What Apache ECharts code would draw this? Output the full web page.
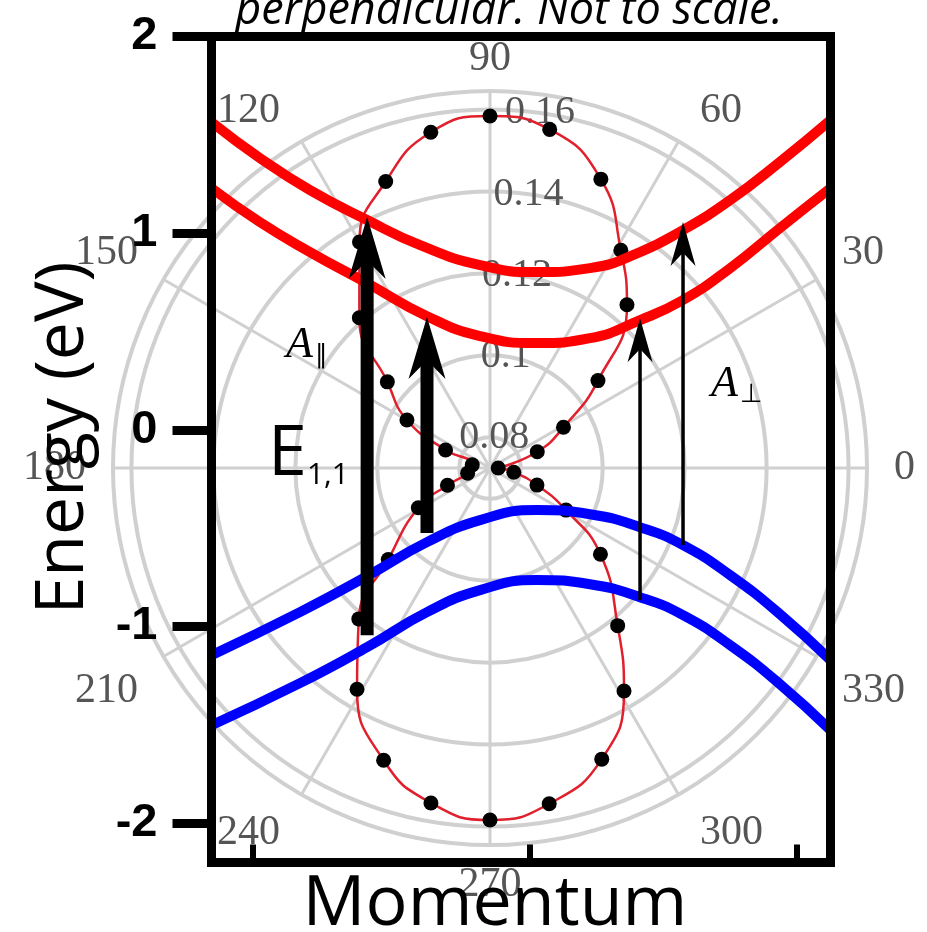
<!DOCTYPE html>
<html><head><meta charset="utf-8">
<script src="https://cdn.jsdelivr.net/npm/echarts@6/dist/echarts.min.js"></script>
<style>html,body{margin:0;padding:0;background:#fff}#c{width:927px;height:932px}</style>
</head><body><div id="c"></div>
<script>
// ---- data ----
const momentumTicks = [-1, 0.02, 1];
const energyTicks = [-2, -1, 0, 1, 2];
const energyTickLabels = ['-2', '-1', '0', '1', '2'];
const angleTickLabels = ['0','30','60','90','120','150','180','210','240','270','300','330'];
const radiusTicks = [0.08, 0.1, 0.12, 0.14, 0.16];
const radiusTickLabels = ['0.08', '0.1', '0.12', '0.14', '0.16'];

// conduction bands (red) and valence bands (blue): momentum / energy (eV)
const c2Momentum = [-1.15, -0.972, -0.788, -0.578, -0.383, -0.163, 0.046, 0.241, 0.425, 0.583, 0.756, 0.939, 1.125];
const c2Energy   = [1.565, 1.382, 1.219, 1.067, 0.939, 0.838, 0.802, 0.822, 0.904, 1.016, 1.168, 1.362, 1.575];
const c1Momentum = [-1.15, -0.972, -0.788, -0.578, -0.358, -0.163, 0.046, 0.241, 0.425, 0.583, 0.756, 0.939, 1.125];
const c1Energy   = [1.229, 1.056, 0.904, 0.746, 0.578, 0.477, 0.441, 0.466, 0.558, 0.660, 0.822, 1.026, 1.229];
const v1Momentum = [-1.15, -0.825, -0.578, -0.358, -0.163, 0.046, 0.241, 0.425, 0.583, 0.756, 0.939, 1.125];
const v1Energy   = [-1.146, -0.927, -0.744, -0.571, -0.459, -0.408, -0.429, -0.495, -0.586, -0.739, -0.937, -1.171];
const v2Momentum = [-1.15, -0.825, -0.578, -0.358, -0.163, 0.046, 0.241, 0.425, 0.583, 0.756, 0.939, 1.125];
const v2Energy   = [-1.502, -1.288, -1.105, -0.927, -0.815, -0.764, -0.785, -0.851, -0.942, -1.095, -1.293, -1.527];

// transitions (arrows): momentum, start energy, end energy
const arrowMomentum = [-0.578, -0.358, 0.425, 0.583];
const arrowFrom     = [-1.044, -0.525, -0.866, -0.586];
const arrowTo       = [1.082, 0.574, 0.568, 1.057];

// polar absorption pattern: angle (deg) and radius value
const patternAngles = [0, 19, 29, 39, 50, 59, 69, 80, 90, 100, 110, 120, 131, 140, 150, 158, 170,
  193, 202, 209, 222, 229, 239, 250, 260, 270, 280, 291, 301, 309, 322, 331, 340, 350];
const patternValues = [0.0745, 0.0847, 0.0930, 0.1064, 0.1245, 0.1345, 0.1480, 0.1564, 0.1584, 0.1557, 0.1469, 0.1362, 0.1211, 0.1052, 0.0959, 0.0842, 0.0769,
  0.0781, 0.0837, 0.0925, 0.1059, 0.1213, 0.1355, 0.1484, 0.1555, 0.1584, 0.1557, 0.1486, 0.1360, 0.1220, 0.1067, 0.0937, 0.0847, 0.0784];

// ---- styles ----
const arrowKinds = ['thick', 'thick', 'thin', 'thin'];
const arrowStyles = {
  thick: { shaft: 13, head: 37, len: 62 },
  thin:  { shaft: 3.5, head: 25, len: 44 }
};

const zip = (a, b) => a.map((v, i) => [v, b[i]]);
const patternData = patternValues.map((v, i) => [v, patternAngles[i]]);
const patternLoop = patternData.concat([[patternValues[0], 360]]);

const chart = echarts.init(document.getElementById('c'), null, { renderer: 'canvas' });
const gray = '#d0d0d0';
const polarCenter = [490, 468];
const polarRadius = 377;
const bandLine = (m, e, color) => ({
  type: 'line', xAxisIndex: 0, yAxisIndex: 0, data: zip(m, e), smooth: 0.5,
  symbol: 'none', z: 3, lineStyle: { color, width: 10 }
});

const option = {
  animation: false,
  backgroundColor: '#fff',
  grid: { left: 211.5, right: 96.5, top: 36.5, bottom: 69.5, outerBoundsMode: 'none', containLabel: false },
  polar: [
    { center: polarCenter, radius: polarRadius },
    { center: polarCenter, radius: polarRadius }
  ],
  angleAxis: [
    {
      polarIndex: 0, type: 'value', min: 0, max: 360, interval: 30, startAngle: 0, clockwise: false, z: 0,
      axisLine: { show: true, lineStyle: { color: gray, width: 4 } },
      axisTick: { show: false },
      splitLine: { show: true, lineStyle: { color: gray, width: 3 } },
      axisLabel: {
        margin: 11, padding: [8, 16, 0, 16], color: '#555', fontFamily: 'Liberation Serif', fontSize: 42,
        formatter: v => (v >= 360 ? '' : angleTickLabels[Math.round(v / 30)])
      }
    },
    {
      polarIndex: 1, type: 'value', min: 0, max: 360, startAngle: 82, clockwise: false, z: 0,
      axisLine: { show: false }, axisTick: { show: false }, splitLine: { show: false }, axisLabel: { show: false }
    }
  ],
  radiusAxis: [
    {
      polarIndex: 0, type: 'value', min: 0.0725, max: 0.1645, z: 0,
      axisLine: { show: false },
      axisTick: { show: false, customValues: radiusTicks },
      axisLabel: { show: false },
      splitLine: { show: true, lineStyle: { color: gray, width: 4 } }
    },
    {
      polarIndex: 1, type: 'value', min: 0.0725, max: 0.1645, z: 0,
      axisLine: { show: false },
      axisTick: { show: false, customValues: radiusTicks },
      splitLine: { show: false },
      axisLabel: {
        show: true, margin: 0, align: 'center', verticalAlign: 'middle', rotate: 0,
        color: '#555', fontFamily: 'Liberation Serif', fontSize: 40,
        customValues: radiusTicks,
        formatter: v => { const i = radiusTicks.findIndex(t => Math.abs(t - v) < 1e-6); return i >= 0 ? radiusTickLabels[i] : ''; }
      }
    }
  ],
  xAxis: [
    {
      type: 'value', min: -1.15, max: 1.125, position: 'bottom', z: 10,
      axisLine: { show: true, onZero: false, lineStyle: { color: '#000', width: 9, cap: 'square' } },
      axisTick: { show: true, inside: true, length: 18, customValues: momentumTicks, lineStyle: { color: '#000', width: 6 } },
      axisLabel: { show: false },
      splitLine: { show: false }
    },
    {
      type: 'value', min: -1.15, max: 1.125, position: 'top', z: 10,
      axisLine: { show: true, onZero: false, lineStyle: { color: '#000', width: 9, cap: 'square' } },
      axisTick: { show: false }, axisLabel: { show: false }, splitLine: { show: false }
    }
  ],
  yAxis: [
    {
      type: 'value', min: -2.2, max: 2, position: 'left', z: 10,
      axisLine: { show: true, onZero: false, lineStyle: { color: '#000', width: 9, cap: 'square' } },
      axisTick: { show: true, inside: false, length: 39, customValues: energyTicks, lineStyle: { color: '#000', width: 9 } },
      axisLabel: {
        show: true, margin: 54, color: '#000', fontFamily: 'Liberation Sans', fontWeight: 'bold', fontSize: 47,
        customValues: energyTicks,
        formatter: v => { const i = energyTicks.indexOf(v); return i >= 0 ? energyTickLabels[i] : ''; }
      },
      splitLine: { show: false }
    },
    {
      type: 'value', min: -2.2, max: 2, position: 'right', z: 10,
      axisLine: { show: true, onZero: false, lineStyle: { color: '#000', width: 9, cap: 'square' } },
      axisTick: { show: false }, axisLabel: { show: false }, splitLine: { show: false }
    }
  ],
  series: [
    {
      type: 'line', coordinateSystem: 'polar', polarIndex: 0, data: patternLoop, smooth: true,
      symbol: 'none', z: 1, lineStyle: { color: '#e0202c', width: 2.5 }
    },
    {
      type: 'scatter', coordinateSystem: 'polar', polarIndex: 0, data: patternData,
      symbol: 'circle', symbolSize: 15, z: 1, itemStyle: { color: '#000', opacity: 1 }
    },
    bandLine(c2Momentum, c2Energy, '#ff0000'),
    bandLine(c1Momentum, c1Energy, '#ff0000'),
    bandLine(v1Momentum, v1Energy, '#0000ff'),
    bandLine(v2Momentum, v2Energy, '#0000ff'),
    {
      type: 'custom', xAxisIndex: 0, yAxisIndex: 0, z: 4,
      data: arrowMomentum.map((k, i) => [k, arrowFrom[i], arrowTo[i]]),
      renderItem: (params, api) => {
        const st = arrowStyles[arrowKinds[params.dataIndex]];
        const p0 = api.coord([api.value(0), api.value(1)]);
        const p1 = api.coord([api.value(0), api.value(2)]);
        const x = p0[0], tipY = p1[1];
        const baseY = tipY + st.len, notchY = tipY + st.len * 0.7;
        return {
          type: 'group',
          children: [
            { type: 'rect', shape: { x: x - st.shaft / 2, y: notchY - 2, width: st.shaft, height: p0[1] - notchY + 2 }, style: { fill: '#000' } },
            { type: 'polygon', shape: { points: [[x, tipY], [x + st.head / 2, baseY], [x, notchY], [x - st.head / 2, baseY]] }, style: { fill: '#000' } }
          ]
        };
      }
    }
  ],
  graphic: [
    { type: 'text', x: 509, y: 34, z: 20, style: { text: 'perpendicular. Not to scale.', font: 'italic 45px "Open Sans"', fill: '#000', align: 'center', verticalAlign: 'bottom' } },
    { type: 'text', x: 64, y: 438, rotation: Math.PI / 2, z: 20, style: { text: 'Energy (eV)', font: '68px "Open Sans"', fill: '#000', align: 'center', verticalAlign: 'middle' } },
    { type: 'text', x: 495, y: 905, z: 20, style: { text: 'Momentum', font: '70px "Open Sans"', fill: '#000', align: 'center', verticalAlign: 'middle' } },
    { type: 'text', x: 268, y: 455, z: 20, style: {
        text: '{e|E}{s|1,1}', fill: '#000', align: 'left', verticalAlign: 'middle',
        rich: { e: { font: '70px "Open Sans"', fill: '#000' }, s: { font: '30px "Open Sans"', fill: '#000', padding: [40, 0, 0, 0] } } } },
    { type: 'text', x: 286, y: 345, z: 20, style: {
        text: '{a|A}{s|∥}', fill: '#000', align: 'left', verticalAlign: 'middle',
        rich: { a: { font: 'italic 44px "Liberation Serif"', fill: '#000' }, s: { font: '26px "DejaVu Sans"', fill: '#000', padding: [22, 0, 0, 2] } } } },
    { type: 'text', x: 711, y: 384, z: 20, style: {
        text: '{a|A}{s|⊥}', fill: '#000', align: 'left', verticalAlign: 'middle',
        rich: { a: { font: 'italic 44px "Liberation Serif"', fill: '#000' }, s: { font: '26px "DejaVu Sans"', fill: '#000', padding: [22, 0, 0, 2] } } } }
  ]
};
chart.setOption(option);
</script>
</body></html>
